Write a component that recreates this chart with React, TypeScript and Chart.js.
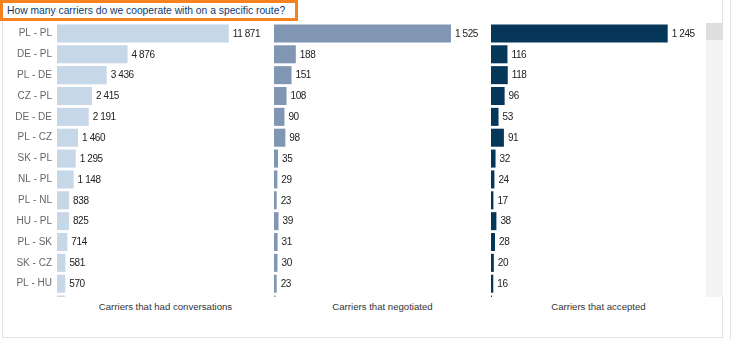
import React, { useEffect, useRef } from "react";
import { Chart, registerables } from "chart.js";

Chart.register(...registerables);

const routes = ["PL - PL", "DE - PL", "PL - DE", "CZ - PL", "DE - DE", "PL - CZ", "SK - PL", "NL - PL", "PL - NL", "HU - PL", "PL - SK", "SK - CZ", "PL - HU", "CZ - DE"];
const conversations = [11871, 4876, 3436, 2415, 2191, 1460, 1295, 1148, 838, 825, 714, 581, 570, 540];
const negotiated = [1525, 188, 151, 108, 90, 98, 35, 29, 23, 39, 31, 30, 23, 13];
const accepted = [1245, 116, 118, 96, 53, 91, 32, 24, 17, 38, 28, 20, 16, 7];
const panelTitles = ["Carriers that had conversations", "Carriers that negotiated", "Carriers that accepted"];
const chartTitle = "How many carriers do we cooperate with on a specific route?";

const FONT = "'Liberation Sans', Arial, sans-serif";

const fmt = (v: number) => String(v).replace(/\B(?=(\d{3})+(?!\d))/g, " ");

const valueLabels = {
  id: "valueLabels",
  afterDatasetsDraw(chart: any) {
    const ctx = chart.ctx;
    const meta = chart.getDatasetMeta(0);
    const data = chart.data.datasets[0].data;
    ctx.save();
    ctx.font = `10px ${FONT}`;
    try {
      (ctx as any).letterSpacing = "-0.4px";
    } catch (e) {}
    ctx.fillStyle = "#222222";
    ctx.textBaseline = "middle";
    ctx.textAlign = "left";
    meta.data.forEach((bar: any, i: number) => {
      ctx.fillText(fmt(data[i]), bar.x + 4, bar.y + 0.5);
    });
    ctx.restore();
  },
};

const panels = [
  { data: conversations, color: "#c6d7e7", max: 15000, left: 0, width: 274, yw: 57 },
  { data: negotiated, color: "#8196b3", max: 1870, left: 274, width: 217, yw: 0 },
  { data: accepted, color: "#06375a", max: 1515, left: 491, width: 215, yw: 0 },
];

const CANVAS_H = 292;

export default function App() {
  const r0 = useRef<HTMLCanvasElement>(null);
  const r1 = useRef<HTMLCanvasElement>(null);
  const r2 = useRef<HTMLCanvasElement>(null);

  useEffect(() => {
    const refs = [r0, r1, r2];
    const charts = panels.map((p, i) => {
      const showY = p.yw > 0;
      return new Chart(refs[i].current as HTMLCanvasElement, {
        type: "bar",
        data: {
          labels: routes,
          datasets: [
            {
              data: p.data,
              backgroundColor: p.color,
              borderWidth: 0,
              barPercentage: 0.865,
              categoryPercentage: 1,
            },
          ],
        },
        options: {
          indexAxis: "y",
          animation: false,
          responsive: false,
          maintainAspectRatio: false,
          layout: { padding: 0 },
          plugins: { legend: { display: false }, tooltip: { enabled: false } },
          scales: {
            x: { display: false, min: 0, max: p.max },
            y: {
              display: showY,
              grid: { display: false, drawTicks: false },
              border: { display: false },
              ticks: { padding: 5, color: "#666666", font: { family: FONT, size: 10 } },
              afterFit: (s: any) => {
                s.width = p.yw;
                s.paddingTop = 0;
                s.paddingBottom = 0;
              },
            },
          },
        },
        plugins: [valueLabels],
      } as any);
    });
    return () => charts.forEach((c) => c.destroy());
  }, []);

  const refs = [r0, r1, r2];

  return (
    <div style={{ position: "fixed", left: 0, top: 0, width: 733, height: 340, background: "#fff", fontFamily: FONT, overflow: "hidden" }}>
      {/* container borders */}
      <div style={{ position: "absolute", left: 2, top: 0, width: 721, height: 338, borderLeft: "1px solid #e2e2e2", borderRight: "1px solid #e2e2e2", borderBottom: "1px solid #e2e2e2", boxSizing: "border-box" }} />
      <div style={{ position: "absolute", left: 730, top: 0, width: 1, height: 340, background: "#e6e6e6" }} />
      {/* scrollbar */}
      <div style={{ position: "absolute", left: 706, top: 23, width: 17, height: 274, background: "#f3f3f3" }} />
      <div style={{ position: "absolute", left: 706, top: 23, width: 17, height: 17, background: "#dedede" }} />
      {/* plots */}
      {panels.map((p, i) => (
        <div key={i} style={{ position: "absolute", left: p.left, top: 23, width: p.width, height: 274, overflow: "hidden" }}>
          <canvas ref={refs[i]} width={p.width} height={CANVAS_H} style={{ display: "block", width: p.width, height: CANVAS_H }} />
        </div>
      ))}
      {/* axis titles */}
      {panels.map((p, i) => (
        <div key={"t" + i} style={{ position: "absolute", left: p.left + p.yw, width: p.width - p.yw, top: 301, lineHeight: "12px", fontSize: 9.6, color: "#333", textAlign: "center", whiteSpace: "nowrap" }}>
          {panelTitles[i]}
        </div>
      ))}
      {/* title */}
      <div style={{ position: "absolute", left: 0, top: 0, width: 298, height: 21, border: "3px solid #f5821f", boxSizing: "border-box", background: "#fff", paddingLeft: 4, fontSize: 10.3, lineHeight: "15px", color: "#0d3a6e", whiteSpace: "nowrap" }}>
        {chartTitle}
      </div>
    </div>
  );
}
